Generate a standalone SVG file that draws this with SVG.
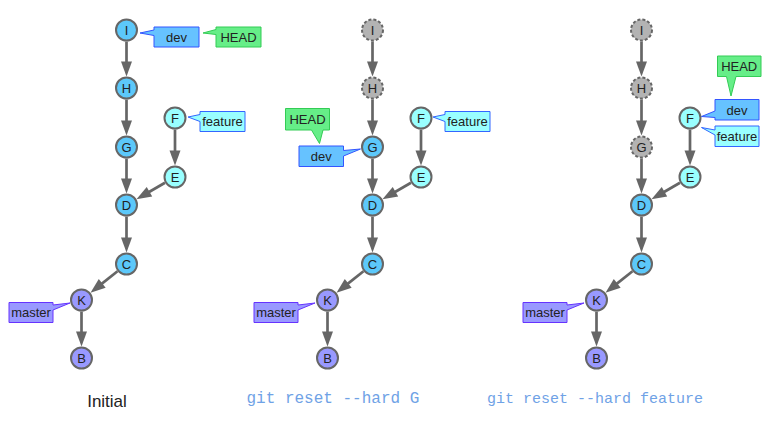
<svg xmlns="http://www.w3.org/2000/svg" width="774" height="428" viewBox="0 0 774 428">
<style>
.n circle{stroke:#666;stroke-width:2}
.blue{fill:#5cc8fa}
.cyan{fill:#99ffff}
.purp{fill:#9999ff}
.gone{fill:#b3b3b3;stroke-dasharray:3 2}
.nt{font-family:"Liberation Sans",Arial,sans-serif;font-size:13px;fill:#222;text-anchor:middle}
.lb{font-family:"Liberation Sans",Arial,sans-serif;font-size:13px;fill:#222;text-anchor:middle}
.cdev{fill:#66c2ff;stroke:#3355ff;stroke-width:1}
.chead{fill:#66ee88;stroke:#33cc55;stroke-width:1}
.cfeat{fill:#99ffff;stroke:#3366ff;stroke-width:1}
.cmast{fill:#9999ff;stroke:#6633ff;stroke-width:1}
.e line{stroke:#666;stroke-width:2.7;marker-end:url(#ah)}
.cmd{font-family:"Liberation Mono","Courier New",monospace;fill:#6fa2e6}
</style>
<defs>
<marker id="ah" markerUnits="userSpaceOnUse" markerWidth="15" markerHeight="11" refX="4" refY="5.5" orient="auto" overflow="visible">
<path d="M0,0 L15,5.5 L0,11 Z" fill="#666"/>
</marker>
</defs>

<g id="connectors" class="e">
<!-- left panel -->
<line x1="126.5" y1="41.5" x2="126.5" y2="65.5"/>
<line x1="126.5" y1="99.5" x2="126.5" y2="124.5"/>
<line x1="126.5" y1="158.5" x2="126.5" y2="182.5"/>
<line x1="175" y1="129.5" x2="175" y2="154.5"/>
<line x1="165" y1="182.75" x2="146" y2="193.75"/>
<line x1="126.5" y1="216.5" x2="126.5" y2="241.5"/>
<line x1="117.5" y1="271.2" x2="99.1" y2="285.9"/>
<line x1="81.5" y1="311.5" x2="81.5" y2="335.5"/>
<!-- middle panel -->
<line x1="372.5" y1="41.5" x2="372.5" y2="65.5"/>
<line x1="372.5" y1="99.5" x2="372.5" y2="124.5"/>
<line x1="372.5" y1="158.5" x2="372.5" y2="182.5"/>
<line x1="421" y1="129.5" x2="421" y2="154.5"/>
<line x1="411" y1="182.75" x2="392" y2="193.75"/>
<line x1="372.5" y1="216.5" x2="372.5" y2="241.5"/>
<line x1="363.5" y1="271.2" x2="345.1" y2="285.9"/>
<line x1="327.5" y1="311.5" x2="327.5" y2="335.5"/>
<!-- right panel -->
<line x1="641.5" y1="41.5" x2="641.5" y2="65.5"/>
<line x1="641.5" y1="99.5" x2="641.5" y2="124.5"/>
<line x1="641.5" y1="158.5" x2="641.5" y2="182.5"/>
<line x1="690" y1="129.5" x2="690" y2="154.5"/>
<line x1="680" y1="182.75" x2="661" y2="193.75"/>
<line x1="641.5" y1="216.5" x2="641.5" y2="241.5"/>
<line x1="632.5" y1="271.2" x2="614.1" y2="285.9"/>
<line x1="596.5" y1="311.5" x2="596.5" y2="335.5"/>
</g>

<!-- left panel nodes -->
<g id="L-I" class="n"><circle class="blue" cx="126.5" cy="30" r="10.5"/><text class="nt" x="126.5" y="34.5">I</text></g>
<g id="L-H" class="n"><circle class="blue" cx="126.5" cy="88" r="10.5"/><text class="nt" x="126.5" y="92.5">H</text></g>
<g id="L-G" class="n"><circle class="blue" cx="126.5" cy="147" r="10.5"/><text class="nt" x="126.5" y="151.5">G</text></g>
<g id="L-D" class="n"><circle class="blue" cx="126.5" cy="205" r="10.5"/><text class="nt" x="126.5" y="209.5">D</text></g>
<g id="L-C" class="n"><circle class="blue" cx="126.5" cy="264" r="10.5"/><text class="nt" x="126.5" y="268.5">C</text></g>
<g id="L-K" class="n"><circle class="purp" cx="81.5" cy="300" r="10.5"/><text class="nt" x="81.5" y="304.5">K</text></g>
<g id="L-B" class="n"><circle class="purp" cx="81.5" cy="358" r="10.5"/><text class="nt" x="81.5" y="362.5">B</text></g>
<g id="L-F" class="n"><circle class="cyan" cx="175" cy="118" r="10.5"/><text class="nt" x="175" y="122.5">F</text></g>
<g id="L-E" class="n"><circle class="cyan" cx="175" cy="177" r="10.5"/><text class="nt" x="175" y="181.5">E</text></g>
<g id="L-dev"><path class="cdev" d="M154,27 H199 V47 H154 V35.5 L140,33 L154,30 Z"/><text class="lb" x="176.5" y="41.5">dev</text></g>
<g id="L-HEAD"><path class="chead" d="M216,27 H261 V47 H216 V34.5 L203,33 L216,29.5 Z"/><text class="lb" x="238.5" y="41.5">HEAD</text></g>
<g id="L-feature"><path class="cfeat" d="M200,111.5 H245 V131.5 H200 V121.5 L188,117 L200,114.5 Z"/><text class="lb" x="222.5" y="126">feature</text></g>
<g id="L-master"><path class="cmast" d="M9,302.5 H53 V305 L70,303 L53,310 V322.5 H9 Z"/><text class="lb" x="31" y="317">master</text></g>

<!-- middle panel nodes -->
<g id="M-I" class="n"><circle class="gone" cx="372.5" cy="30" r="10.5"/><text class="nt" x="372.5" y="34.5">I</text></g>
<g id="M-H" class="n"><circle class="gone" cx="372.5" cy="88" r="10.5"/><text class="nt" x="372.5" y="92.5">H</text></g>
<g id="M-G" class="n"><circle class="blue" cx="372.5" cy="147" r="10.5"/><text class="nt" x="372.5" y="151.5">G</text></g>
<g id="M-D" class="n"><circle class="blue" cx="372.5" cy="205" r="10.5"/><text class="nt" x="372.5" y="209.5">D</text></g>
<g id="M-C" class="n"><circle class="blue" cx="372.5" cy="264" r="10.5"/><text class="nt" x="372.5" y="268.5">C</text></g>
<g id="M-K" class="n"><circle class="purp" cx="327.5" cy="300" r="10.5"/><text class="nt" x="327.5" y="304.5">K</text></g>
<g id="M-B" class="n"><circle class="purp" cx="327.5" cy="358" r="10.5"/><text class="nt" x="327.5" y="362.5">B</text></g>
<g id="M-F" class="n"><circle class="cyan" cx="421" cy="118" r="10.5"/><text class="nt" x="421" y="122.5">F</text></g>
<g id="M-E" class="n"><circle class="cyan" cx="421" cy="177" r="10.5"/><text class="nt" x="421" y="181.5">E</text></g>
<g id="M-HEAD"><path class="chead" d="M285.5,108.5 H329.5 V130 H323 L319.5,143.5 L311.5,130 H285.5 Z"/><text class="lb" x="307.5" y="123.5">HEAD</text></g>
<g id="M-dev"><path class="cdev" d="M299,146 H343.5 V150.5 L360.5,149 L343.5,156 V166.5 H299 Z"/><text class="lb" x="321.2" y="161">dev</text></g>
<g id="M-feature"><path class="cfeat" d="M445,111.5 H490 V131.5 H445 V121.5 L433,117 L445,114.5 Z"/><text class="lb" x="467.5" y="126">feature</text></g>
<g id="M-master"><path class="cmast" d="M254,302.5 H298 V305 L315,303 L298,310 V322.5 H254 Z"/><text class="lb" x="276" y="317">master</text></g>

<!-- right panel nodes -->
<g id="R-I" class="n"><circle class="gone" cx="641.5" cy="30" r="10.5"/><text class="nt" x="641.5" y="34.5">I</text></g>
<g id="R-H" class="n"><circle class="gone" cx="641.5" cy="88" r="10.5"/><text class="nt" x="641.5" y="92.5">H</text></g>
<g id="R-G" class="n"><circle class="gone" cx="641.5" cy="147" r="10.5"/><text class="nt" x="641.5" y="151.5">G</text></g>
<g id="R-D" class="n"><circle class="blue" cx="641.5" cy="205" r="10.5"/><text class="nt" x="641.5" y="209.5">D</text></g>
<g id="R-C" class="n"><circle class="blue" cx="641.5" cy="264" r="10.5"/><text class="nt" x="641.5" y="268.5">C</text></g>
<g id="R-K" class="n"><circle class="purp" cx="596.5" cy="300" r="10.5"/><text class="nt" x="596.5" y="304.5">K</text></g>
<g id="R-B" class="n"><circle class="purp" cx="596.5" cy="358" r="10.5"/><text class="nt" x="596.5" y="362.5">B</text></g>
<g id="R-F" class="n"><circle class="cyan" cx="690" cy="118" r="10.5"/><text class="nt" x="690" y="122.5">F</text></g>
<g id="R-E" class="n"><circle class="cyan" cx="690" cy="177" r="10.5"/><text class="nt" x="690" y="181.5">E</text></g>
<g id="R-HEAD"><path class="chead" d="M717.5,56 H761 V76.5 H736 L731,96 L726.5,76.5 H717.5 Z"/><text class="lb" x="739.2" y="71">HEAD</text></g>
<g id="R-dev"><path class="cdev" d="M715,99.5 H759 V120 H715 V117.5 L701.5,116.5 L715,111 Z"/><text class="lb" x="737" y="114.5">dev</text></g>
<g id="R-feature"><path class="cfeat" d="M715,126 H759 V146.5 H715 V135 L701.5,127.5 L715,130 Z"/><text class="lb" x="737" y="141">feature</text></g>
<g id="R-master"><path class="cmast" d="M523,302.5 H567 V305 L584,303 L567,310 V322.5 H523 Z"/><text class="lb" x="545" y="317">master</text></g>

<!-- captions -->
<text x="107" y="407" font-family="'Liberation Sans',Arial,sans-serif" font-size="17" fill="#222" text-anchor="middle">Initial</text>
<text class="cmd" x="246.5" y="403" font-size="16">git reset --hard G</text>
<text class="cmd" x="487" y="402.5" font-size="15">git reset --hard feature</text>
</svg>
